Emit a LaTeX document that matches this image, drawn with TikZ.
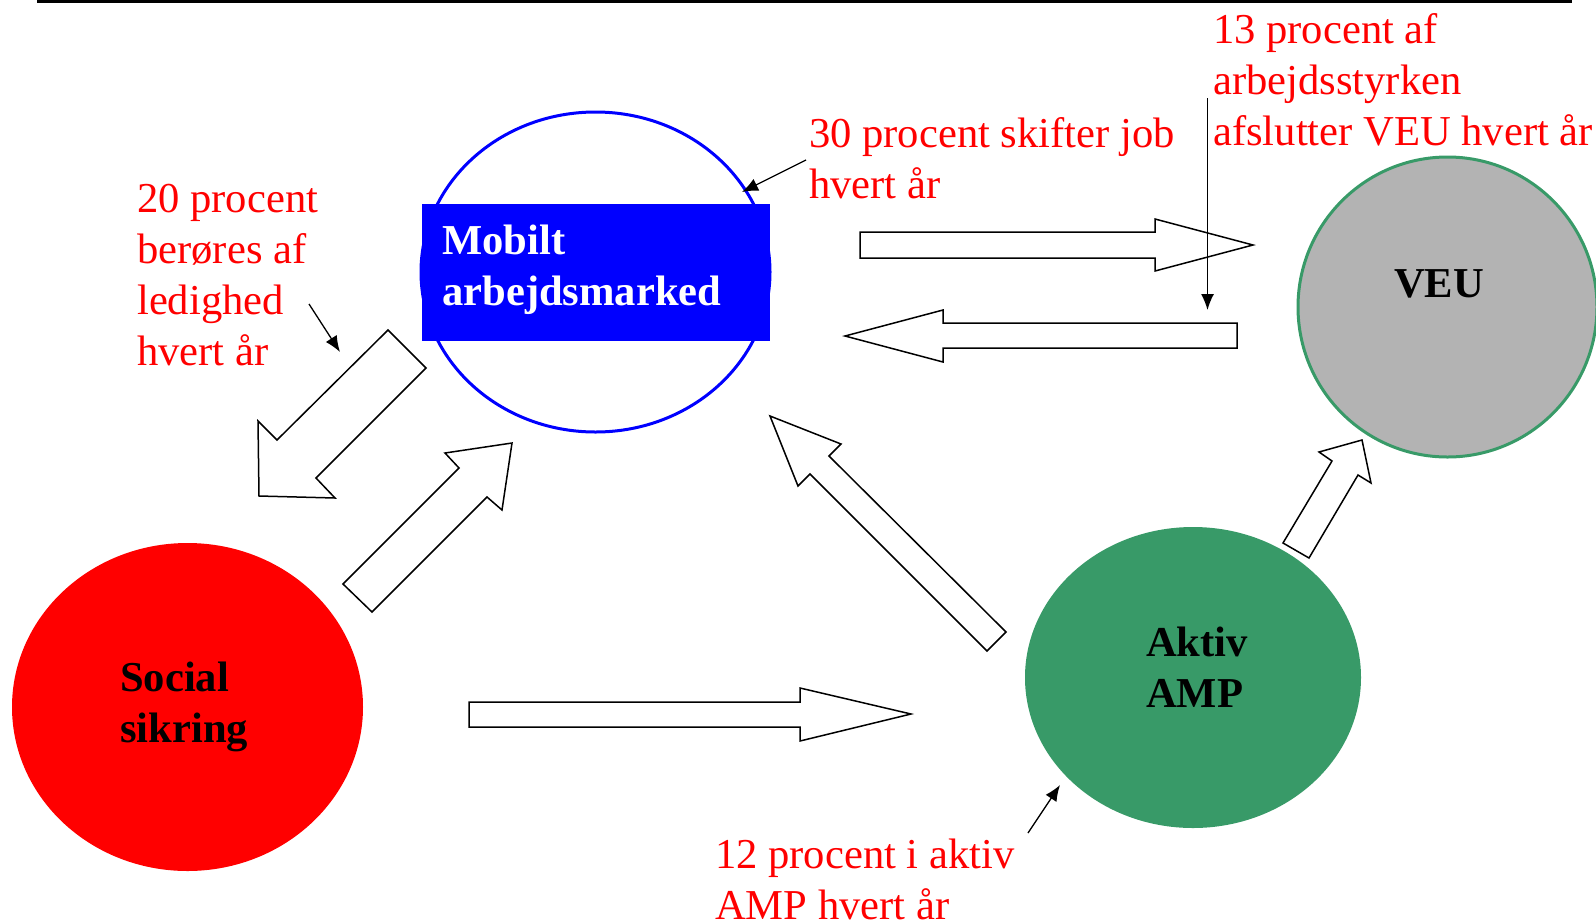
\documentclass[tikz,border=0pt]{standalone}
\usepackage{fontspec}
\setmainfont{Liberation Serif}
\usetikzlibrary{arrows.meta}
\definecolor{mobilBlue}{RGB}{0,0,255}
\definecolor{ampGreen}{RGB}{56,154,104}
\definecolor{veuGray}{RGB}{179,179,179}
\definecolor{noteRed}{RGB}{255,0,0}
\tikzstyle{flowChart} = [x = 1pt, y = -1pt]
\tikzstyle{noteText} = [color=noteRed, anchor=base west, inner sep=0, align=left, font=\fontsize{42.6}{51}\selectfont]
\tikzstyle{circleText} = [anchor=base west, inner sep=0, align=left, font=\fontsize{42.6}{51}\selectfont\bfseries]
\tikzstyle{blockArrowStyle} = [draw=black, fill=white, line width=1.5pt, line join=miter]
\tikzstyle{noteArrow} = [-{Latex[length=16pt, width=13pt]}, line width=1.3pt]
\newcommand{\blockArrow}[1]{\filldraw [blockArrowStyle] #1 -- cycle;}

\begin{document}
\begin{tikzpicture}[flowChart]
  \useasboundingbox (0,0) rectangle (1596,922);
  \draw [line width=3pt] (37,1.5) -- (1572,1.5);

  % the four circles
  \draw [mobilBlue, line width=3pt] (595.5,272) ellipse [x radius=174.5pt, y radius=160pt];
  \fill [mobilBlue] (422,204) rectangle (770,341);
  \fill [red] (187.5,707) ellipse [x radius=175.5pt, y radius=164pt];
  \fill [ampGreen] (1193,677.5) ellipse [x radius=168pt, y radius=150.5pt];
  \filldraw [fill=veuGray, draw=ampGreen, line width=3pt] (1447.5,307) ellipse [x radius=149.5pt, y radius=150pt];

  % text anchored at the baseline of the last line
  \node [circleText, white] (mobilText) at (442,305) {Mobilt\\arbejdsmarked};
  \node [circleText] (socialText) at (120,742) {Social\\sikring};
  \node [circleText] (ampText) at (1146,707) {Aktiv\\AMP};
  \node [circleText] (veuText) at (1394,297) {VEU};

  % block arrows
  \blockArrow{(860,232) -- (1155,232) -- (1155,219) -- (1253,245) -- (1155,271) -- (1155,258) -- (860,258)}
  \blockArrow{(1237,323) -- (943,323) -- (943,310) -- (845,336) -- (943,362) -- (943,348) -- (1237,348)}
  \blockArrow{(388,330) -- (426,368) -- (316,478) -- (335,498) -- (259,496) -- (258,421) -- (277,440)}
  \blockArrow{(343,584) -- (459,468) -- (445,453) -- (512,443) -- (502,510) -- (487,497) -- (372,612)}
  \blockArrow{(770,416) -- (841,444) -- (829,456) -- (1006,632) -- (987,651) -- (810,474) -- (798,486)}
  \blockArrow{(469,702) -- (800,702) -- (800,688) -- (911,714) -- (800,741) -- (800,727) -- (469,727)}
  \blockArrow{(1283,543) -- (1332,461) -- (1319,452) -- (1362,440) -- (1371,483) -- (1358,475) -- (1309,558)}

  % red notes
  \node [noteText] (ledigNote) at (137,365) {20 procent\\berøres af\\ledighed\\hvert år};
  \node [noteText] (jobNote) at (809,198) {30 procent skifter job\\hvert år};
  \node [noteText] (veuNote) at (1213,145) {13 procent af\\arbejdsstyrken\\afslutter VEU hvert år};
  \node [noteText] (ampNote) at (715,919) {12 procent i aktiv\\AMP hvert år};

  \coordinate (ledigStart) at (309,304);
  \coordinate (ledigEnd) at (340,352);
  \coordinate (jobStart) at (806,160);
  \coordinate (jobEnd) at (742,192);
  \coordinate (veuStart) at (1207.5,98);
  \coordinate (veuEnd) at (1207.5,310);
  \coordinate (ampStart) at (1028,833);
  \coordinate (ampEnd) at (1060,785);
  \draw [noteArrow] (ledigStart) -- (ledigEnd);
  \draw [noteArrow] (jobStart) -- (jobEnd);
  \draw [noteArrow] (veuStart) -- (veuEnd);
  \draw [noteArrow] (ampStart) -- (ampEnd);
\end{tikzpicture}
\end{document}
